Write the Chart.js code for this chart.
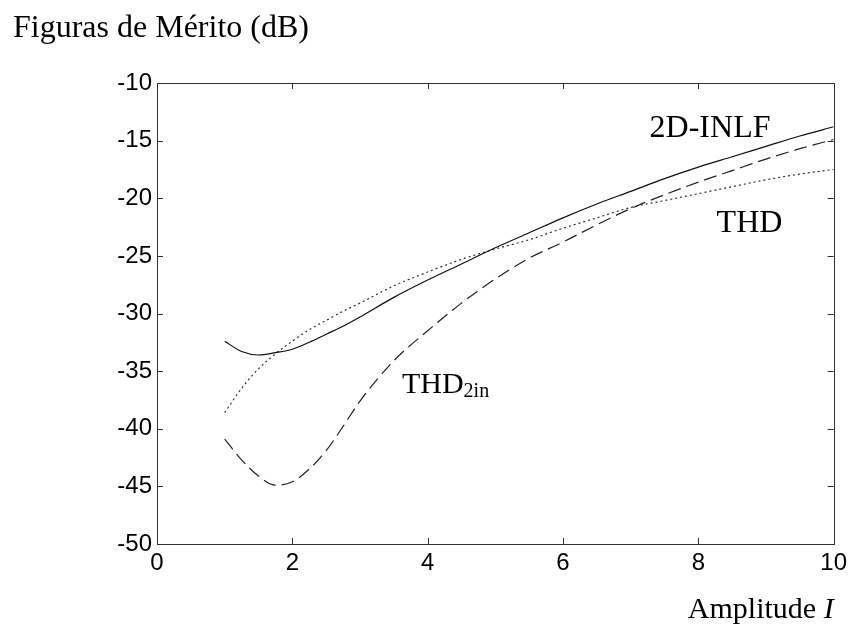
<!DOCTYPE html>
<html lang="pt">
  <head>
    <meta charset="UTF-8" />
    <title>Figuras de Mérito</title>
    <style>
      html, body { margin: 0; padding: 0; background: #fff; }
      #fig { display: block; }
    </style>
  </head>
  <body>
    <canvas id="fig" width="852" height="627"></canvas>
    <script src="https://cdnjs.cloudflare.com/ajax/libs/Chart.js/4.4.1/chart.umd.min.js"></script>
    <script>
      // amplitude I
      const xValues = [1, 1.25, 1.5, 1.75, 2, 2.25, 2.5, 2.75, 3, 3.5, 4, 4.5, 5, 5.5, 6, 6.5, 7, 7.5, 8, 8.5, 9, 9.5, 10];
      // figures of merit, dB
      const inlf = [-32.4, -33.3, -33.6, -33.4, -33.1, -32.5, -31.8, -31.1, -30.3, -28.6, -27.1, -25.7, -24.3, -23.0, -21.7, -20.5, -19.4, -18.3, -17.3, -16.4, -15.5, -14.6, -13.8];
      const thd = [-38.6, -36.5, -34.8, -33.5, -32.4, -31.4, -30.6, -29.8, -29.1, -27.6, -26.4, -25.3, -24.4, -23.6, -22.6, -21.7, -20.8, -20.2, -19.6, -19.0, -18.4, -17.9, -17.5];
      const thd2in = [-40.9, -42.7, -44.1, -44.9, -44.6, -43.5, -41.9, -39.8, -37.6, -34.1, -31.5, -29.1, -27.0, -25.2, -23.8, -22.3, -20.9, -19.7, -18.6, -17.6, -16.6, -15.7, -14.9];

      const xTicks = [0, 2, 4, 6, 8, 10];
      const yTicks = [-50, -45, -40, -35, -30, -25, -20, -15, -10];

      const SERIF = "'Liberation Serif', 'Times New Roman', serif";
      const SANS = "'Liberation Sans', Arial, sans-serif";

      const toPoints = (ys) => xValues.map((x, i) => ({ x: x, y: ys[i] }));

      // frame, inward ticks and the text labels (MATLAB style)
      const decor = {
        id: "decor",
        afterDatasetsDraw(chart) {
          const c = chart.ctx;
          const a = chart.chartArea;
          const sx = chart.scales.x;
          const sy = chart.scales.y;
          c.save();
          c.strokeStyle = "#333";
          c.lineWidth = 1;
          c.beginPath();
          xTicks.forEach((v) => {
            const px = Math.round(sx.getPixelForValue(v)) + 0.5;
            c.moveTo(px, a.bottom); c.lineTo(px, a.bottom - 6);
            c.moveTo(px, a.top); c.lineTo(px, a.top + 6);
          });
          yTicks.forEach((v) => {
            const py = Math.round(sy.getPixelForValue(v)) + 0.5;
            c.moveTo(a.left, py); c.lineTo(a.left + 6, py);
            c.moveTo(a.right, py); c.lineTo(a.right - 6, py);
          });
          c.stroke();
          c.strokeRect(Math.round(a.left) + 0.5, Math.round(a.top) + 0.5,
            Math.round(a.right - a.left), Math.round(a.bottom - a.top));

          c.fillStyle = "#000";
          c.textBaseline = "alphabetic";
          c.textAlign = "left";
          c.font = "32px " + SERIF;
          c.fillText("Figuras de Mérito (dB)", 13, 37);

          // curve names, placed in data units
          c.fillText("2D-INLF", sx.getPixelForValue(7.28), sy.getPixelForValue(-14.7));
          c.fillText("THD", sx.getPixelForValue(8.27), sy.getPixelForValue(-22.9));
          c.font = "30px " + SERIF;
          const tx = sx.getPixelForValue(3.62);
          const ty = sy.getPixelForValue(-36.9);
          c.fillText("THD", tx, ty);
          const w = c.measureText("THD").width;
          c.font = "20px " + SERIF;
          c.fillText("2in", tx + w, ty + 4);

          // x axis title
          c.textAlign = "right";
          c.font = "italic 30px " + SERIF;
          const iw = c.measureText("I").width;
          c.fillText("I", a.right, 618);
          c.font = "30px " + SERIF;
          c.fillText("Amplitude ", a.right - iw, 618);
          c.restore();
        },
      };

      const lineStyle = {
        borderWidth: 1.2,
        pointRadius: 0,
        fill: false,
        cubicInterpolationMode: "monotone",
      };

      const chart = new Chart(document.getElementById("fig"), {
        type: "line",
        data: {
          datasets: [
            Object.assign({ label: "2D-INLF", data: toPoints(inlf), borderColor: "#111" }, lineStyle),
            Object.assign({ label: "THD", data: toPoints(thd), borderColor: "#333", borderDash: [2, 3] }, lineStyle),
            Object.assign({ label: "THD2in", data: toPoints(thd2in), borderColor: "#222", borderDash: [13, 6] }, lineStyle),
          ],
        },
        options: {
          responsive: false,
          animation: false,
          layout: { padding: { left: 0, right: 18, top: 83, bottom: 0 } },
          plugins: {
            legend: { display: false },
            tooltip: { enabled: false },
          },
          scales: {
            x: {
              type: "linear",
              min: 0,
              max: 10,
              afterFit: (s) => { s.height = 83; },
              afterBuildTicks: (s) => { s.ticks = xTicks.map((v) => ({ value: v })); },
              grid: { display: false, drawTicks: false },
              border: { display: false },
              ticks: {
                color: "#000",
                padding: 5,
                maxRotation: 0,
                font: { family: SANS, size: 24 },
              },
            },
            y: {
              min: -50,
              max: -10,
              afterFit: (s) => { s.width = 157; },
              afterBuildTicks: (s) => { s.ticks = yTicks.map((v) => ({ value: v })); },
              grid: { display: false, drawTicks: false },
              border: { display: false },
              ticks: {
                color: "#000",
                padding: 5,
                font: { family: SANS, size: 24 },
              },
            },
          },
        },
        plugins: [decor],
      });
    </script>
  </body>
</html>
